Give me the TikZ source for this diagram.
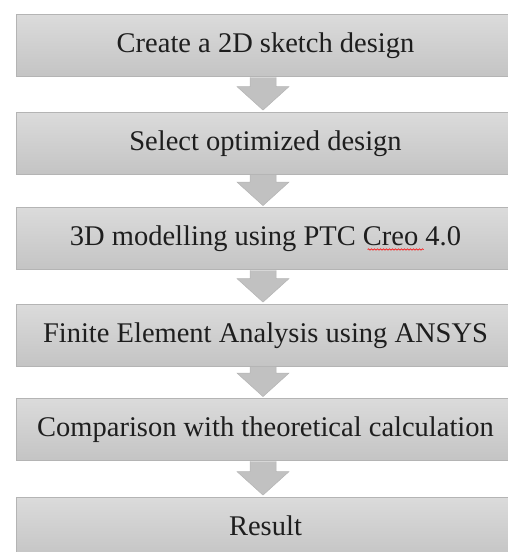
\documentclass[tikz,border=0pt]{standalone}
\usepackage{fontspec}
\setmainfont{Liberation Serif}
\usetikzlibrary{calc,decorations.pathmorphing}
\definecolor{boxtop}{RGB}{219,219,219}
\definecolor{boxbot}{RGB}{196,196,196}
\definecolor{boxline}{RGB}{180,180,180}
\definecolor{arrowfill}{RGB}{193,193,193}
\definecolor{inktext}{RGB}{30,30,30}
\begin{document}
\begin{tikzpicture}[x=1pt,y=-1pt,
  stepbox/.style={draw=boxline, line width=0.8pt, top color=boxtop, bottom color=boxbot,
    minimum width=499pt, minimum height=62pt, inner sep=0pt, text=inktext,
    text height=20pt, text depth=6pt,
    font=\fontsize{28.5}{32}\selectfont},
  flowarrow/.style={fill=arrowfill, draw=boxline, line width=0.5pt},
  spellmark/.style={draw=red, line width=0.6pt, decorate,
    decoration={snake, segment length=3pt, amplitude=0.7pt}}]
\useasboundingbox (0,0) rectangle (508,552);
% process steps
\node[stepbox] (b1) at (265.5,45.5)  {Create a 2D sketch design};
\node[stepbox] (b2) at (265.5,143)   {Select optimized design};
\node[stepbox] (b3) at (265.5,238.5) {3D modelling using PTC Creo 4.0};
\node[stepbox] (b4) at (265.5,335)   {Finite Element Analysis using ANSYS};
\node[stepbox] (b5) at (265.5,429.5) {Comparison with theoretical calculation};
\node[stepbox] (b6) at (265.5,528)   {Result};
% block arrows between consecutive steps
\foreach \a/\b in {b1/b2,b2/b3,b3/b4,b4/b5,b5/b6}{
  \draw[flowarrow] ($(\a.south)+(-15.5,0.4)$) -- ($(\b.north)+(-15.5,-25)$)
    -- ($(\b.north)+(-28.5,-25)$) -- ($(\b.north)+(-2.5,-1.5)$)
    -- ($(\b.north)+(23.5,-25)$) -- ($(\b.north)+(10.5,-25)$)
    -- ($(\a.south)+(10.5,0.4)$);
}
% spell-check underline below "Creo"
\coordinate (sq1) at ($(b3.center)+(102,11)$);
\coordinate (sq2) at ($(b3.center)+(158,11)$);
\draw[spellmark] (sq1) -- (sq2);
\end{tikzpicture}
\end{document}
